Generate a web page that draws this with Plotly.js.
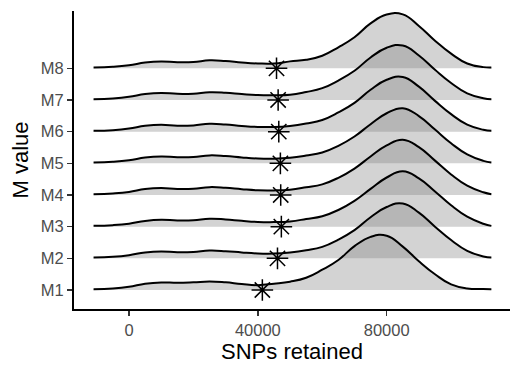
<!DOCTYPE html>
<html><head><meta charset="utf-8">
<script src="https://cdn.plot.ly/plotly-3.0.1.min.js"></script>
<style>html,body{margin:0;padding:0;background:#fff}#chart{width:525px;height:375px}</style>
</head><body><div id="chart"></div>
<script>
// Categories (bottom to top)
const categories = ['M1', 'M2', 'M3', 'M4', 'M5', 'M6', 'M7', 'M8'];

// Common x grid of SNPs retained
const snps = [-11000, -5000, 0, 5000, 10000, 15000, 20000, 25000, 30000, 35000, 40000,
  45000, 50000, 55000, 60000, 65000, 70000, 75000, 80000, 85000, 90000, 95000,
  100000, 105000, 110000, 112500];

// Relative density heights
const densM1 = [0.8, 1.5, 3.2, 6.3, 7.6, 7.2, 7.7, 8.6, 7.7, 6.0, 4.9, 6.4, 8.4, 12.3, 20.4, 30.2, 44.2, 53.5, 54.7, 43.7, 28.9, 15.8, 5.6, 1.5, 0.9, 0.8];
const densM2 = [0.8, 1.6, 3.2, 5.9, 6.9, 6.1, 6.4, 7.8, 7.2, 5.9, 4.9, 4.8, 5.9, 8.1, 11.5, 18.8, 28.4, 41.4, 51.7, 55.2, 46.0, 31.9, 18.4, 7.6, 1.9, 0.8];
const densM3 = [0.8, 1.5, 3.0, 5.8, 7.0, 6.2, 6.4, 8.0, 7.3, 5.9, 4.8, 4.6, 5.3, 7.7, 10.5, 16.8, 26.0, 38.0, 49.5, 55.8, 48.7, 35.5, 21.5, 10.0, 2.9, 0.8];
const densM4 = [0.8, 1.6, 3.1, 6.0, 7.0, 6.1, 6.3, 7.9, 7.2, 5.8, 4.7, 4.6, 5.4, 7.8, 10.7, 17.3, 26.6, 38.8, 50.0, 55.6, 48.2, 34.6, 20.7, 9.4, 2.7, 0.8];
const densM5 = [0.8, 1.5, 3.0, 5.8, 6.9, 6.2, 6.4, 8.0, 7.3, 5.9, 4.8, 4.6, 5.5, 7.8, 10.9, 17.6, 27.0, 39.4, 50.4, 55.5, 47.6, 34.0, 20.2, 9.0, 2.5, 0.8];
const densM6 = [0.8, 1.5, 3.1, 5.9, 7.0, 6.0, 6.3, 7.9, 7.2, 5.8, 4.8, 4.7, 5.8, 8.2, 11.7, 19.3, 29.0, 42.2, 52.2, 55.0, 45.3, 31.0, 17.6, 7.0, 1.9, 0.8];
const densM7 = [0.8, 1.6, 3.2, 6.0, 7.1, 6.2, 6.4, 7.8, 7.3, 6.0, 4.9, 4.7, 5.2, 8.0, 11.9, 19.6, 29.4, 42.8, 52.6, 54.9, 44.8, 30.4, 17.1, 6.6, 1.8, 0.8];
const densM8 = [0.8, 1.5, 3.0, 5.8, 6.9, 6.1, 6.3, 8.0, 7.3, 5.9, 4.9, 4.8, 7.0, 8.6, 12.7, 21.2, 31.3, 45.2, 54.1, 54.3, 42.7, 27.8, 14.8, 4.9, 1.2, 0.8];

// Star markers (one per category)
const starValues = [41400, 46100, 47300, 47100, 47000, 46500, 46300, 45800];

const xTickVals = [0, 40000, 80000];
const xTickText = ['0', '40000', '80000'];

const densities = [densM1, densM2, densM3, densM4, densM5, densM6, densM7, densM8];
const maxD = Math.max(...densities.map(d => Math.max(...d)));
const ridgeScale = 1.75 / maxD;

const traces = [];
for (let i = categories.length - 1; i >= 0; i--) {
  const base = i + 1;
  traces.push({
    x: [snps[0], snps[snps.length - 1]], y: [base, base],
    mode: 'lines', line: {width: 0, color: 'rgba(0,0,0,0)'},
    hoverinfo: 'skip', showlegend: false
  });
  traces.push({
    x: snps, y: densities[i].map(v => base + v * ridgeScale),
    mode: 'lines', line: {color: '#000', width: 2, shape: 'spline', smoothing: 1.3},
    fill: 'tonexty', fillcolor: 'rgba(128,128,128,0.35)',
    hoverinfo: 'skip', showlegend: false, name: categories[i]
  });
}
traces.push({
  x: starValues, y: categories.map((c, i) => i + 1),
  mode: 'markers',
  marker: {symbol: 'asterisk-open', size: 18, color: '#000', line: {color: '#000', width: 1.5}},
  hoverinfo: 'skip', showlegend: false
});

const font = {family: 'Liberation Sans, Arial, sans-serif'};
const layout = {
  width: 525, height: 375,
  margin: {l: 74, r: 15, t: 11, b: 66},
  paper_bgcolor: '#fff', plot_bgcolor: '#fff',
  showlegend: false,
  font: font,
  xaxis: {
    range: [-17075, 118286], showgrid: false, zeroline: false,
    showline: true, linecolor: '#000', linewidth: 2,
    ticks: 'outside', ticklen: 5, tickwidth: 1.5, tickcolor: '#333',
    tickvals: xTickVals, ticktext: xTickText,
    tickfont: {family: font.family, size: 16.5, color: '#4d4d4d'},
    title: {text: 'SNPs retained', font: {family: font.family, size: 22, color: '#000'}, standoff: 4},
    automargin: false
  },
  yaxis: {
    range: [0.40, 9.81], showgrid: false, zeroline: false,
    showline: true, linecolor: '#000', linewidth: 2,
    ticks: 'outside', ticklen: 5, tickwidth: 1.5, tickcolor: '#333',
    tickvals: categories.map((c, i) => i + 1), ticktext: categories,
    tickfont: {family: font.family, size: 16.5, color: '#4d4d4d'},
    title: {text: 'M value', font: {family: font.family, size: 22, color: '#000'}, standoff: 6},
    automargin: false
  }
};

Plotly.newPlot('chart', traces, layout, {staticPlot: true, displayModeBar: false});
</script>
</body></html>
